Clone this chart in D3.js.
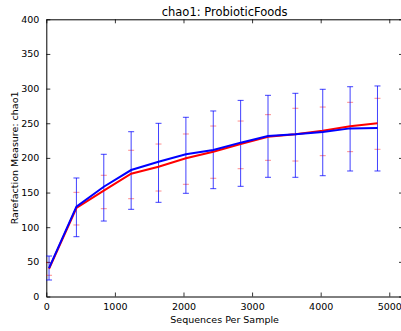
<!DOCTYPE html>
<html>
<head>
<meta charset="utf-8">
<script src="https://cdn.jsdelivr.net/npm/d3@7"></script>
<style>
  html, body { margin: 0; padding: 0; background: #fff; }
  svg { display: block; font-family: "DejaVu Sans", sans-serif; }
</style>
</head>
<body>
<svg id="chart" width="401" height="331"></svg>
<script>
// Rarefaction depths (sequences per sample)
const depths = [40, 439, 838, 1237, 1636, 2035, 2434, 2833, 3232, 3631, 4030, 4429, 4828];

// Series "blue": mean chao1 and error-bar bounds
const blueMean  = [41, 129.6, 158.4, 182.5, 194.5, 205.2, 211.4, 222, 231.6, 234, 237.4, 242.6, 243.2];
const blueUpper = [58.4, 171, 205.2, 237.8, 249.9, 258.6, 267.7, 283, 290.3, 293.2, 299, 302.7, 303.8];
const blueLower = [23.8, 86.3, 108.9, 125.8, 135.9, 148.9, 155.6, 159, 172, 172, 174.3, 181.1, 181.1];

// Series "red": mean chao1 and error-bar bounds
const redMean  = [40, 127.7, 152.7, 177.2, 187.3, 199.4, 209, 220, 230.6, 234, 239.3, 245.6, 249.9];
const redUpper = [48.8, 150.3, 174.9, 211, 220, 234.5, 246, 253.2, 262.4, 271.6, 273.4, 280.2, 286];
const redLower = [30.6, 103.2, 126.7, 141.1, 152.2, 161.9, 170.6, 184.4, 196.5, 195.5, 203.2, 209, 212.4];

const xTicks = [0, 1000, 2000, 3000, 4000, 5000];
const yTicks = [0, 50, 100, 150, 200, 250, 300, 350, 400];

const svg = d3.select("#chart");
const plotLeft = 46.3, plotRight = 403, plotTop = 19.3, plotBottom = 296.5;

const x = d3.scaleLinear().domain([0, 5200]).range([plotLeft, plotRight]);
const y = d3.scaleLinear().domain([0, 400]).range([plotBottom, plotTop]);

const tickFont = "9.5px";

// Axes: ticks point inward on all four sides
const axB = svg.append("g").attr("transform", `translate(0,${plotBottom})`)
  .call(d3.axisBottom(x).tickValues(xTicks).tickSizeInner(-4).tickSizeOuter(0).tickPadding(7).tickFormat(d3.format("d")));
const axT = svg.append("g").attr("transform", `translate(0,${plotTop})`)
  .call(d3.axisTop(x).tickValues(xTicks).tickSizeInner(-4).tickSizeOuter(0).tickFormat(""));
const axL = svg.append("g").attr("transform", `translate(${plotLeft},0)`)
  .call(d3.axisLeft(y).tickValues(yTicks).tickSizeInner(-4).tickSizeOuter(0).tickPadding(7).tickFormat(d3.format("d")));
const axR = svg.append("g").attr("transform", `translate(${plotRight},0)`)
  .call(d3.axisRight(y).tickValues(yTicks).tickSizeInner(-4).tickSizeOuter(0).tickFormat(""));

[axB, axT, axL, axR].forEach(g => {
  g.select(".domain").attr("stroke", "#000").attr("stroke-width", 1);
  g.selectAll(".tick line").attr("stroke", "#000").attr("stroke-width", 0.8);
  g.selectAll(".tick text").attr("fill", "#000").style("font-size", tickFont)
    .style("font-family", "'DejaVu Sans', sans-serif");
});

const capW = 3;
const plot = svg.append("g");

function errorBars(mean, upper, lower, color, opacity, drawStem) {
  const g = plot.append("g").attr("stroke", color).attr("stroke-opacity", opacity).attr("fill", "none");
  depths.forEach((d, i) => {
    const cx = x(d);
    if (drawStem) {
      g.append("line").attr("x1", cx).attr("x2", cx).attr("y1", y(upper[i])).attr("y2", y(lower[i])).attr("stroke-width", 1);
    }
    [upper[i], lower[i]].forEach(v => {
      g.append("line").attr("x1", cx - capW).attr("x2", cx + capW).attr("y1", y(v)).attr("y2", y(v)).attr("stroke-width", 1);
    });
  });
}

const line = (vals) => d3.line().x((d, i) => x(depths[i])).y(d => y(d))(vals);

// Red series: caps only show; stems sit behind the blue ones
errorBars(redMean, redUpper, redLower, "#ff0000", 0.45, false);
errorBars(blueMean, blueUpper, blueLower, "#0000ff", 0.75, true);

plot.append("path").attr("d", line(redMean)).attr("fill", "none").attr("stroke", "#ff0000").attr("stroke-width", 2);
plot.append("path").attr("d", line(blueMean)).attr("fill", "none").attr("stroke", "#0000ff").attr("stroke-width", 2);

// Title and axis labels
svg.append("text").attr("x", (plotLeft + plotRight) / 2).attr("y", 16).attr("text-anchor", "middle")
  .style("font-size", "11.5px").attr("fill", "#000").text("chao1: ProbioticFoods");
svg.append("text").attr("x", (plotLeft + plotRight) / 2).attr("y", 323).attr("text-anchor", "middle")
  .style("font-size", "9.5px").attr("fill", "#000").text("Sequences Per Sample");
svg.append("text").attr("transform", `translate(18,${(plotTop + plotBottom) / 2}) rotate(-90)`).attr("text-anchor", "middle")
  .style("font-size", "9.5px").attr("fill", "#000").text("Rarefaction Measure: chao1");
</script>
</body>
</html>
